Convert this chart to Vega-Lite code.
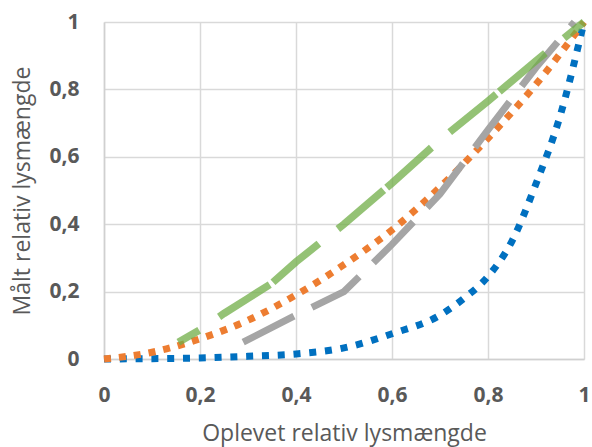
{
  "$schema": "https://vega.github.io/schema/vega-lite/v6.json",
  "autosize": "none",
  "width": 480,
  "height": 337,
  "padding": {"left": 104, "top": 22, "right": 8, "bottom": 88},
  "background": "white",
  "config": {
    "view": {"stroke": null},
    "axis": {
      "labelFont": "Open Sans",
      "labelFontWeight": "bold",
      "labelFontSize": 21,
      "labelColor": "#595959",
      "titleFont": "Open Sans",
      "titleFontWeight": "normal",
      "titleFontSize": 23,
      "titleColor": "#595959",
      "gridColor": "#D9D9D9",
      "gridWidth": 1.5,
      "domainColor": "#D0D0D0",
      "domainWidth": 1.5,
      "ticks": false
    }
  },
  "data": {
    "values": [
      {"s": "blue", "x": 0, "y": 0},
      {"s": "blue", "x": 0.1, "y": 0.001},
      {"s": "blue", "x": 0.2, "y": 0.003},
      {"s": "blue", "x": 0.3, "y": 0.008},
      {"s": "blue", "x": 0.4, "y": 0.015},
      {"s": "blue", "x": 0.5, "y": 0.033},
      {"s": "blue", "x": 0.6, "y": 0.075},
      {"s": "blue", "x": 0.7, "y": 0.13},
      {"s": "blue", "x": 0.75, "y": 0.18},
      {"s": "blue", "x": 0.8, "y": 0.245},
      {"s": "blue", "x": 0.85, "y": 0.35},
      {"s": "blue", "x": 0.9, "y": 0.52},
      {"s": "blue", "x": 0.95, "y": 0.72},
      {"s": "blue", "x": 1, "y": 1},
      {"s": "orange", "x": 0, "y": 0},
      {"s": "orange", "x": 0.1, "y": 0.02},
      {"s": "orange", "x": 0.2, "y": 0.06},
      {"s": "orange", "x": 0.3, "y": 0.115},
      {"s": "orange", "x": 0.4, "y": 0.19},
      {"s": "orange", "x": 0.5, "y": 0.28},
      {"s": "orange", "x": 0.6, "y": 0.383},
      {"s": "orange", "x": 0.7, "y": 0.51},
      {"s": "orange", "x": 0.8, "y": 0.655},
      {"s": "orange", "x": 0.9, "y": 0.815},
      {"s": "orange", "x": 1, "y": 1},
      {"s": "gray", "x": 0.29, "y": 0.05},
      {"s": "gray", "x": 0.4, "y": 0.13},
      {"s": "gray", "x": 0.5, "y": 0.2},
      {"s": "gray", "x": 0.6, "y": 0.34},
      {"s": "gray", "x": 0.7, "y": 0.49},
      {"s": "gray", "x": 0.8, "y": 0.68},
      {"s": "gray", "x": 0.9, "y": 0.865},
      {"s": "gray", "x": 0.98, "y": 1},
      {"s": "green", "x": 0.155, "y": 0.05},
      {"s": "green", "x": 0.2, "y": 0.087},
      {"s": "green", "x": 0.25, "y": 0.135},
      {"s": "green", "x": 0.3, "y": 0.18},
      {"s": "green", "x": 0.35, "y": 0.225},
      {"s": "green", "x": 0.4, "y": 0.288},
      {"s": "green", "x": 0.45, "y": 0.345},
      {"s": "green", "x": 0.5, "y": 0.4},
      {"s": "green", "x": 0.6, "y": 0.522},
      {"s": "green", "x": 0.7, "y": 0.65},
      {"s": "green", "x": 0.8, "y": 0.765},
      {"s": "green", "x": 0.9, "y": 0.885},
      {"s": "green", "x": 1, "y": 1}
    ]
  },
  "encoding": {
    "x": {
      "field": "x", "type": "quantitative",
      "scale": {"domain": [0, 1], "nice": false},
      "axis": {
        "title": "Oplevet relativ lysmængde",
        "values": [0, 0.2, 0.4, 0.6, 0.8, 1],
        "labelExpr": "replace(format(datum.value, ''), '.', ',')",
        "labelPadding": 25,
        "titlePadding": 17,
        "labelFlush": false
      }
    },
    "y": {
      "field": "y", "type": "quantitative",
      "scale": {"domain": [0, 1], "nice": false},
      "axis": {
        "title": "Målt relativ lysmængde",
        "values": [0, 0.2, 0.4, 0.6, 0.8, 1],
        "labelExpr": "replace(format(datum.value, ''), '.', ',')",
        "labelPadding": 25,
        "titlePadding": 14,
        "labelFlush": false
      }
    },
    "order": {"field": "x", "type": "quantitative"}
  },
  "layer": [
    {
      "transform": [{"filter": "datum.s === 'blue'"}],
      "mark": {"type": "line", "color": "#0070C0", "strokeWidth": 7, "strokeDash": [7, 8.8], "strokeCap": "butt", "interpolate": "monotone"}
    },
    {
      "transform": [{"filter": "datum.s === 'orange'"}],
      "mark": {"type": "line", "color": "#ED7D31", "strokeWidth": 7, "strokeDash": [7, 8], "strokeCap": "butt", "interpolate": "monotone"}
    },
    {
      "transform": [{"filter": "datum.s === 'gray'"}],
      "mark": {"type": "line", "color": "#A5A5A5", "strokeWidth": 7, "strokeDash": [57, 20], "strokeCap": "butt", "interpolate": "linear"}
    },
    {
      "transform": [{"filter": "datum.s === 'green'"}],
      "mark": {"type": "line", "color": "#70AD47", "opacity": 0.75, "strokeWidth": 7.5, "strokeDash": [60, 4, 60, 24], "strokeDashOffset": 100, "strokeCap": "butt", "interpolate": "linear"}
    }
  ]
}
